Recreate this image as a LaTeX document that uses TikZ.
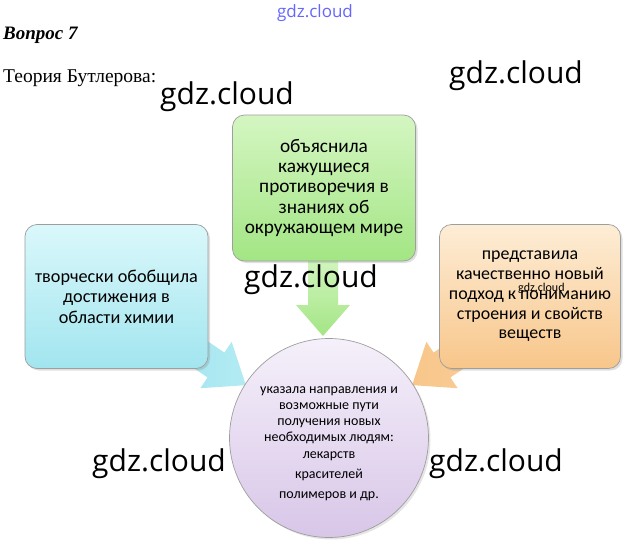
\documentclass[tikz,border=0pt]{standalone}
\usepackage{fontspec}
\setmainfont{Liberation Serif}
\newfontfamily\boxfont{Carlito}
\newfontfamily\wmfont{Open Sans}
\usetikzlibrary{shadows}
\definecolor{cyanT}{HTML}{DAF8FB}
\definecolor{cyanB}{HTML}{A2E5EF}
\definecolor{greenT}{HTML}{D4F6C2}
\definecolor{greenB}{HTML}{A3E584}
\definecolor{orT}{HTML}{FDEDD6}
\definecolor{orB}{HTML}{F8C68A}
\definecolor{puT}{HTML}{F5F0FA}
\definecolor{puB}{HTML}{D8C6E8}
\tikzset{
  card/.style={rounded corners=12pt, draw=black!38, line width=0.7pt, align=center,
    minimum width=183pt, minimum height=144pt, inner sep=2pt,
    drop shadow={opacity=0.25, shadow xshift=2pt, shadow yshift=-2pt}},
  blockarrow/.style={draw=none},
  wm/.style={font=\wmfont\fontsize{30}{30}\selectfont, text=black, inner sep=0pt},
  ctext/.style={font=\boxfont\fontsize{14}{16}\selectfont, align=center, inner sep=0pt}
}
\begin{document}
\begin{tikzpicture}[x=1pt,y=-1pt]
\useasboundingbox (0,0) rectangle (629,543);
\fill[white] (0,0) rectangle (629,543);

% header
\node[anchor=base west, inner sep=0pt, font=\fontsize{19}{19}\selectfont\bfseries\itshape] (q) at (3,40) {Вопрос 7};
\node[anchor=base west, inner sep=0pt, font=\fontsize{19.5}{19}\selectfont] (t) at (3,82) {Теория Бутлерова:};

% arrows (under boxes)
\begin{scope}[shift={(323,305)}]
  \path[blockarrow, top color=greenT, bottom color=greenB]
    (-15,-50) -- (15,-50) -- (15,0) -- (27,0) -- (0,31) -- (-27,0) -- (-15,0) -- cycle;
\end{scope}
\begin{scope}[shift={(216,365)}, rotate=-34]
  \path[blockarrow, left color=cyanB, right color=cyanB!70!cyanT]
    (-50,-15) -- (0,-15) -- (0,-28) -- (36,0) -- (0,28) -- (0,15) -- (-50,15) -- cycle;
\end{scope}
\begin{scope}[shift={(442,365)}, rotate=-146]
  \path[blockarrow, left color=orB, right color=orB!80!orT]
    (-50,-15) -- (0,-15) -- (0,-28) -- (36,0) -- (0,28) -- (0,15) -- (-50,15) -- cycle;
\end{scope}

% boxes
\node[card, top color=cyanT, bottom color=cyanB, font=\boxfont\fontsize{18.2}{20.5}\selectfont] (cy) at (116.5,296.5)
  {творчески обобщила\\достижения в\\области химии};
\node[card, minimum height=146pt, top color=greenT, bottom color=greenB, font=\boxfont\fontsize{19.3}{20.2}\selectfont] (gr) at (324,188)
  {объяснила\\кажущиеся\\противоречия в\\знаниях об\\окружающем мире};
\node[card, minimum width=181pt, top color=orT, bottom color=orB, font=\boxfont\fontsize{17.9}{19.8}\selectfont] (or) at (530,296.5)
  {представила\\качественно новый\\подход к пониманию\\строения и свойств\\веществ};

% circle
\node[circle, minimum size=199pt, draw=black!38, line width=0.7pt, top color=puT, bottom color=puB,
  drop shadow={opacity=0.2, shadow xshift=2pt, shadow yshift=-2pt}] (ci) at (329,438) {};
\node[ctext, anchor=base] (c1) at (329,441) {указала направления и\\возможные пути\\получения новых\\необходимых людям:};
\node[ctext, anchor=base] (c2) at (329,458) {лекарств};
\node[ctext, anchor=base] (c3) at (329,478) {красителей};
\node[ctext, anchor=base] (c4) at (329,498) {полимеров и др.};

% watermarks
\node[anchor=base, inner sep=0pt, font=\wmfont\fontsize{17}{17}\selectfont, text=blue!60!white] (w0) at (315,18) {gdz.cloud};
\node[wm, anchor=base west] (w1) at (160,104) {gdz.cloud};
\node[wm, anchor=base west] (w2) at (449,84) {gdz.cloud};
\node[wm, anchor=base west] (w3) at (244,287) {gdz.cloud};
\node[wm, anchor=base west] (w4) at (92,471) {gdz.cloud};
\node[wm, anchor=base west] (w5) at (429,471) {gdz.cloud};
\node[anchor=base west, inner sep=0pt, font=\boxfont\fontsize{12}{12}\selectfont] (w6) at (518,291) {gdz.cloud};
\end{tikzpicture}
\end{document}
